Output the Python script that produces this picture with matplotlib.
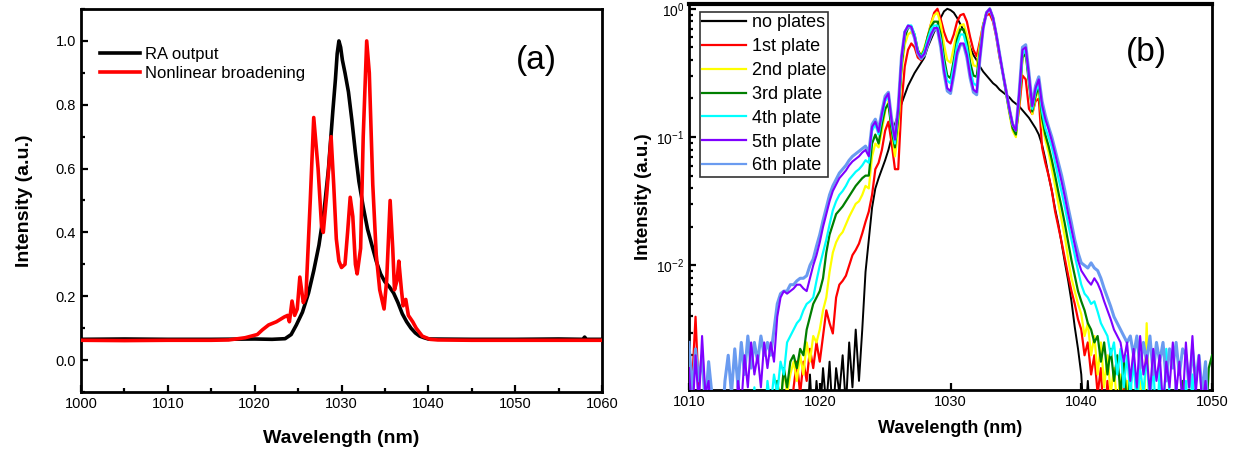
import numpy as np
import matplotlib
matplotlib.use('Agg')
import matplotlib.pyplot as plt
from matplotlib.ticker import MultipleLocator, FixedLocator, LogLocator, NullFormatter

plt.rcParams['font.family'] = ['Liberation Sans', 'DejaVu Sans']
plt.rcParams['mathtext.fontset'] = 'custom'
plt.rcParams['mathtext.rm'] = 'Liberation Sans'
plt.rcParams['mathtext.default'] = 'regular'

# ---------------- panel (a) data ----------------
wl_ra = [1000, 1005, 1010, 1015, 1020, 1022, 1023.5, 1024.2, 1024.8, 1025.5,
         1026.2, 1026.8, 1027.4, 1028, 1028.5, 1029, 1029.3, 1029.5, 1029.7, 1029.9,
         1030.1, 1030.4, 1030.8, 1031.2, 1031.6, 1032, 1032.5, 1033, 1033.5, 1034,
         1034.5, 1035, 1035.5, 1036, 1036.5, 1037, 1037.5, 1038, 1038.5, 1039,
         1039.5, 1040, 1045, 1050, 1055, 1057.8, 1058, 1058.2, 1060]
int_ra = [0.065, 0.066, 0.065, 0.065, 0.066, 0.065, 0.067, 0.08, 0.11, 0.15,
          0.21, 0.28, 0.36, 0.47, 0.6, 0.78, 0.88, 0.96, 1.0, 0.98,
          0.94, 0.9, 0.84, 0.75, 0.65, 0.56, 0.48, 0.41, 0.36, 0.31,
          0.27, 0.245, 0.23, 0.21, 0.18, 0.145, 0.12, 0.1, 0.085, 0.075,
          0.07, 0.066, 0.065, 0.065, 0.066, 0.065, 0.072, 0.065, 0.065]

wl_nl = [1000, 1005, 1010, 1015, 1017, 1018.9, 1020.3, 1020.9, 1021.6, 1022.5,
         1023.4, 1023.8, 1024.0, 1024.3, 1024.6, 1024.9, 1025.2, 1025.6, 1025.9, 1026.4,
         1026.8, 1027.3, 1027.7, 1027.9, 1028.3, 1028.8, 1029.1, 1029.4, 1029.7, 1030.0,
         1030.4, 1030.7, 1031.0, 1031.3, 1031.6, 1031.8, 1032.2, 1032.5, 1032.9, 1033.2,
         1033.6, 1034.0, 1034.4, 1034.9, 1035.2, 1035.6, 1035.9, 1036.1, 1036.4, 1036.6,
         1036.9, 1037.1, 1037.4, 1037.7, 1038.2, 1038.6, 1039.3, 1040.2, 1041.1, 1045,
         1050, 1055, 1060]
int_nl = [0.062, 0.061, 0.062, 0.062, 0.063, 0.07, 0.08, 0.095, 0.11, 0.12,
          0.135, 0.14, 0.12, 0.185, 0.14, 0.16, 0.26, 0.18, 0.2, 0.5,
          0.76, 0.6, 0.42, 0.4, 0.52, 0.70, 0.55, 0.38, 0.31, 0.29,
          0.3, 0.4, 0.51, 0.45, 0.3, 0.27, 0.35, 0.7, 1.0, 0.9,
          0.55, 0.33, 0.22, 0.16, 0.25, 0.5, 0.35, 0.22, 0.25, 0.31,
          0.22, 0.17, 0.19, 0.14, 0.12, 0.1, 0.075, 0.065, 0.063, 0.062,
          0.062, 0.062, 0.062]

# ---------------- panel (b) data (log10 of intensity, 0.25 nm grid) ----------------
wl_b = np.arange(1010, 1050.01, 0.25)

log_none = [
    -3.3, -3.3, -3.3, -3.3, -3.3, -3.3, -3.3, -3.3,
    -3.3, -3.3, -3.3, -3.3, -3.3, -3.3, -3.3, -3.3,
    -3.3, -3.3, -3.3, -3.3, -3.3, -3.3, -3.3, -3.3,
    -3.3, -3.3, -3.3, -3.3, -3.3, -3.3, -3.3, -3.3,
    -3.3, -3.3, -3.3, -3.3, -3.3, -2.85, -3.3, -2.9,
    -3.2, -2.8, -3.1, -2.75, -3.2, -2.8, -3.0, -2.7,
    -3.1, -2.6, -2.95, -2.5, -2.9, -2.5, -2.05, -1.8,
    -1.55, -1.4, -1.32, -1.25, -1.18, -1.1, -1.0, -0.9,
    -0.82, -0.74, -0.67, -0.6, -0.55, -0.5, -0.46, -0.42,
    -0.38, -0.3, -0.24, -0.18, -0.13, -0.07, -0.02, 0.0,
    -0.01, -0.03, -0.07, -0.12, -0.17, -0.22, -0.3, -0.36,
    -0.4, -0.45, -0.49, -0.52, -0.55, -0.58, -0.6, -0.63,
    -0.65, -0.67, -0.69, -0.72, -0.74, -0.76, -0.79, -0.82,
    -0.85, -0.89, -0.93, -0.98, -1.06, -1.17, -1.3, -1.42,
    -1.56, -1.68, -1.83, -1.98, -2.12, -2.28, -2.48, -2.65,
    -2.85, -3.3, -2.9, -3.3, -3.3, -3.3, -3.3, -3.3,
    -3.3, -3.3, -3.3, -3.3, -3.3, -3.3, -3.3, -3.3,
    -3.3, -3.3, -3.3, -3.3, -3.3, -3.3, -3.3, -3.3,
    -3.3, -3.3, -3.3, -3.3, -3.3, -3.3, -3.3, -3.3,
    -3.3, -3.3, -3.3, -3.3, -3.3, -3.3, -3.3, -3.3,
    -3.3]

log_p1 = [
    -3.3, -2.9, -2.4, -3.0, -3.3, -2.95, -3.3, -3.3,
    -3.3, -3.3, -3.3, -3.3, -3.3, -3.3, -3.3, -3.3,
    -3.3, -3.3, -3.3, -3.0, -3.3, -3.3, -3.3, -3.3,
    -3.3, -3.3, -3.3, -3.3, -3.0, -3.3, -2.95, -3.3,
    -2.95, -2.75, -3.0, -2.75, -2.9, -2.65, -2.8, -2.6,
    -2.75, -2.55, -2.35, -2.45, -2.53, -2.25, -2.15, -2.12,
    -2.08, -2.0, -1.92, -1.88, -1.83, -1.75, -1.66, -1.58,
    -1.45, -1.25, -1.2, -1.1, -0.95, -0.88, -1.05, -1.25,
    -1.25, -0.75, -0.45, -0.32, -0.27, -0.3, -0.38, -0.4,
    -0.33, -0.22, -0.12, -0.03, 0.0, -0.08, -0.18, -0.25,
    -0.27, -0.2, -0.1, -0.05, -0.04, -0.1, -0.22, -0.32,
    -0.37, -0.25, -0.12, -0.05, -0.04, -0.1, -0.22, -0.38,
    -0.5, -0.63, -0.78, -0.9, -0.95, -0.78, -0.52, -0.55,
    -0.78, -0.82, -0.72, -0.7, -1.08, -1.2, -1.3, -1.42,
    -1.58, -1.7, -1.82, -1.95, -2.08, -2.2, -2.3, -2.42,
    -2.5, -2.7, -2.6, -2.85, -2.7, -3.0, -2.8, -3.3,
    -2.9, -3.3, -3.1, -3.3, -3.3, -2.95, -3.3, -3.3,
    -3.3, -3.3, -3.0, -3.3, -3.3, -3.3, -3.3, -3.3,
    -3.3, -3.3, -3.3, -3.3, -3.3, -2.95, -3.3, -3.3,
    -3.3, -3.3, -3.3, -3.3, -3.3, -3.3, -3.3, -3.3,
    -3.3]

log_p2 = [
    -3.3, -3.3, -3.3, -3.3, -3.3, -3.3, -3.3, -3.3,
    -3.3, -3.3, -3.3, -3.3, -3.3, -3.3, -3.3, -3.3,
    -3.3, -3.3, -3.3, -3.3, -3.3, -3.3, -3.0, -3.3,
    -3.3, -3.0, -3.3, -2.9, -3.1, -2.8, -3.0, -2.85,
    -2.75, -2.9, -2.7, -2.85, -2.6, -2.75, -2.55, -2.6,
    -2.5, -2.35, -2.25, -2.05, -1.9, -1.82, -1.77, -1.74,
    -1.68, -1.62, -1.57, -1.52, -1.5, -1.45, -1.38, -1.4,
    -1.15, -1.05, -1.08, -0.95, -0.8, -0.72, -0.95, -1.15,
    -0.95, -0.5, -0.28, -0.2, -0.18, -0.22, -0.33, -0.36,
    -0.3, -0.22, -0.12, -0.05, -0.03, -0.12, -0.28, -0.4,
    -0.42, -0.3, -0.18, -0.13, -0.12, -0.2, -0.32, -0.44,
    -0.45, -0.28, -0.12, -0.03, 0.0, -0.07, -0.2, -0.36,
    -0.5, -0.66, -0.82, -0.95, -1.0, -0.75, -0.4, -0.33,
    -0.55, -0.82, -0.7, -0.62, -0.9, -1.02, -1.12, -1.25,
    -1.38, -1.52, -1.65, -1.78, -1.95, -2.1, -2.2, -2.3,
    -2.38, -2.55, -2.45, -2.7, -2.55, -2.85, -2.6, -2.95,
    -2.7, -3.0, -2.8, -3.1, -2.85, -3.3, -2.9, -3.3,
    -3.0, -3.3, -2.9, -3.3, -2.45, -3.3, -3.3, -3.3,
    -3.3, -3.0, -3.3, -3.3, -3.3, -3.3, -3.3, -3.3,
    -3.3, -3.3, -3.3, -3.3, -3.3, -3.3, -3.3, -3.3,
    -3.3]

log_p3 = [
    -2.75, -3.3, -3.3, -3.3, -3.3, -3.3, -3.3, -3.3,
    -3.3, -3.3, -3.3, -3.3, -3.3, -3.3, -3.3, -3.3,
    -3.3, -3.3, -3.3, -3.3, -3.3, -3.3, -3.3, -3.1,
    -3.3, -3.0, -3.3, -2.9, -3.1, -2.8, -2.95, -2.75,
    -2.7, -2.8, -2.65, -2.7, -2.5, -2.4, -2.3, -2.25,
    -2.2, -2.1, -1.9, -1.76, -1.68, -1.6, -1.57, -1.54,
    -1.5, -1.46, -1.42, -1.38, -1.35, -1.32, -1.3, -1.3,
    -1.05, -0.98, -1.05, -0.9, -0.78, -0.74, -0.95, -1.08,
    -0.85, -0.45, -0.22, -0.15, -0.14, -0.2, -0.32, -0.37,
    -0.32, -0.22, -0.14, -0.1, -0.1, -0.2, -0.38, -0.52,
    -0.54, -0.4, -0.24, -0.16, -0.16, -0.26, -0.42, -0.52,
    -0.53, -0.32, -0.13, -0.03, 0.0, -0.07, -0.2, -0.36,
    -0.5, -0.66, -0.8, -0.93, -0.98, -0.72, -0.38, -0.35,
    -0.58, -0.8, -0.68, -0.6, -0.85, -0.98, -1.07, -1.18,
    -1.3, -1.43, -1.55, -1.68, -1.82, -1.96, -2.08, -2.2,
    -2.28, -2.35, -2.45, -2.5, -2.6, -2.55, -2.75, -2.6,
    -2.85, -2.65, -2.9, -2.7, -3.0, -2.75, -3.1, -2.85,
    -3.3, -2.9, -3.3, -3.3, -3.0, -3.3, -3.3, -3.3,
    -3.3, -3.3, -3.3, -3.3, -3.3, -3.3, -3.3, -2.9,
    -3.3, -3.3, -3.3, -3.3, -3.3, -3.3, -3.3, -2.8,
    -2.7]

log_p4 = [
    -3.3, -3.0, -3.3, -3.3, -3.3, -3.3, -3.3, -3.3,
    -3.3, -3.3, -3.3, -3.3, -3.3, -3.3, -3.0, -3.3,
    -3.3, -3.0, -3.3, -3.3, -2.95, -3.3, -3.0, -3.3,
    -2.9, -3.1, -2.85, -3.0, -2.75, -2.85, -2.6, -2.55,
    -2.5, -2.45, -2.42, -2.35, -2.3, -2.28, -2.25, -2.12,
    -2.0, -1.9, -1.8, -1.68, -1.57, -1.5, -1.45, -1.42,
    -1.38, -1.33, -1.3, -1.27, -1.25, -1.22, -1.18, -1.2,
    -0.95, -0.9, -0.98, -0.85, -0.72, -0.68, -0.9, -1.05,
    -0.8, -0.4, -0.18, -0.13, -0.13, -0.2, -0.33, -0.38,
    -0.33, -0.24, -0.16, -0.13, -0.13, -0.24, -0.43, -0.56,
    -0.58, -0.44, -0.28, -0.2, -0.2, -0.3, -0.47, -0.58,
    -0.6, -0.36, -0.14, -0.03, 0.0, -0.07, -0.2, -0.35,
    -0.5, -0.64, -0.78, -0.9, -0.95, -0.68, -0.36, -0.32,
    -0.55, -0.78, -0.65, -0.58, -0.8, -0.93, -1.0, -1.08,
    -1.2, -1.32, -1.43, -1.55, -1.68, -1.8, -1.92, -2.04,
    -2.15, -2.22, -2.25, -2.3, -2.28, -2.36, -2.45, -2.5,
    -2.55, -2.7, -2.6, -2.85, -2.65, -2.95, -2.7, -3.0,
    -2.75, -3.1, -2.8, -3.0, -2.7, -3.1, -2.75, -3.3,
    -2.8, -3.3, -2.65, -3.0, -3.3, -2.9, -3.3, -3.3,
    -2.9, -3.3, -2.85, -3.3, -3.3, -2.9, -3.3, -3.3,
    -3.3]

log_p5 = [
    -2.8, -3.2, -2.7, -3.1, -2.55, -3.0, -2.9, -3.3,
    -3.0, -3.3, -3.3, -3.3, -3.3, -3.1, -3.3, -2.9,
    -3.1, -2.7, -2.95, -2.6, -2.85, -2.7, -2.95, -2.6,
    -2.8, -2.6, -2.75, -2.4, -2.25, -2.2, -2.22, -2.2,
    -2.18, -2.15, -2.15, -2.18, -2.2, -2.1, -2.0, -1.92,
    -1.82, -1.7, -1.6, -1.5, -1.42, -1.37, -1.32, -1.29,
    -1.26, -1.22, -1.19, -1.17, -1.15, -1.12, -1.1, -1.15,
    -0.92, -0.88, -0.96, -0.82, -0.7, -0.66, -0.88, -1.02,
    -0.78, -0.38, -0.18, -0.13, -0.14, -0.22, -0.34, -0.38,
    -0.35, -0.27, -0.2, -0.15, -0.15, -0.28, -0.48, -0.62,
    -0.64, -0.5, -0.34, -0.27, -0.27, -0.36, -0.52, -0.63,
    -0.65, -0.38, -0.15, -0.03, 0.0, -0.07, -0.2, -0.35,
    -0.5, -0.64, -0.78, -0.9, -0.95, -0.66, -0.32, -0.3,
    -0.52, -0.76, -0.62, -0.55, -0.75, -0.86, -0.94, -1.03,
    -1.13, -1.24, -1.35, -1.47, -1.6, -1.72, -1.84, -1.96,
    -2.04, -2.08, -2.12, -2.15, -2.1, -2.14, -2.2, -2.28,
    -2.35, -2.42, -2.5, -2.55, -2.6, -2.75, -2.6, -2.9,
    -2.65, -2.95, -2.55, -2.85, -2.7, -3.0, -2.65, -2.9,
    -2.7, -3.1, -2.75, -2.95, -2.6, -3.0, -2.75, -3.1,
    -2.6, -2.95, -2.55, -3.0, -2.7, -3.1, -2.9, -3.3,
    -3.3]

log_p6 = [
    -2.6, -3.0, -2.65, -2.9, -2.7, -3.1, -2.75, -3.0,
    -3.3, -3.0, -3.3, -2.9, -2.7, -3.0, -2.65, -2.95,
    -2.6, -2.85, -2.55, -2.8, -2.6, -2.75, -2.55, -2.7,
    -2.6, -2.7, -2.5, -2.3, -2.22, -2.2, -2.2, -2.15,
    -2.15, -2.12, -2.1, -2.1, -2.08, -2.0, -1.95, -1.85,
    -1.76, -1.65, -1.55, -1.45, -1.38, -1.33, -1.28, -1.25,
    -1.22, -1.18, -1.15, -1.13, -1.11, -1.09, -1.07, -1.12,
    -0.9, -0.86, -0.94, -0.8, -0.68, -0.65, -0.86, -1.0,
    -0.76, -0.37, -0.18, -0.14, -0.15, -0.23, -0.35, -0.39,
    -0.36, -0.28, -0.21, -0.16, -0.16, -0.3, -0.5, -0.64,
    -0.66, -0.52, -0.36, -0.28, -0.28, -0.38, -0.54, -0.65,
    -0.67, -0.39, -0.15, -0.03, 0.0, -0.07, -0.2, -0.35,
    -0.5, -0.64, -0.78, -0.9, -0.94, -0.65, -0.3, -0.28,
    -0.5, -0.75, -0.6, -0.53, -0.72, -0.83, -0.92, -1.0,
    -1.1, -1.2, -1.3, -1.42, -1.55, -1.67, -1.8, -1.9,
    -1.98, -2.0, -2.02, -1.98, -2.02, -2.04, -2.1, -2.18,
    -2.25, -2.32, -2.4, -2.45, -2.5, -2.55, -2.6, -2.55,
    -2.7, -2.55, -2.8, -2.6, -2.75, -2.55, -2.85, -2.6,
    -2.75, -2.6, -2.9, -2.65, -2.8, -2.6, -2.85, -2.65,
    -2.7, -2.95, -2.65, -2.9, -2.7, -3.0, -2.75, -3.3,
    -3.3]

labels_b = ['no plates', '1st plate', '2nd plate', '3rd plate',
            '4th plate', '5th plate', '6th plate']
colors_b = ['black', '#FF0000', '#FFFF00', '#007F00', '#00FFFF', '#7F00FF', '#6A9BF0']
series_b = [log_none, log_p1, log_p2, log_p3, log_p4, log_p5, log_p6]

# ---------------- figure ----------------
fig = plt.figure(figsize=(12.43, 4.55), dpi=100)

def style_axes(ax):
    for s in ax.spines.values():
        s.set_linewidth(2.0)
    ax.tick_params(which='both', direction='in', top=False, right=False,
                   width=1.6, labelsize=10.5)
    ax.tick_params(which='major', length=5)
    ax.tick_params(which='minor', length=3)

# panel (a)
ax1 = fig.add_axes([0.0652, 0.1385, 0.4191, 0.8417])
ax1.plot(wl_ra, int_ra, color='black', lw=2.6, label='RA output', zorder=2)
ax1.plot(wl_nl, int_nl, color='#FF0000', lw=2.6, label='Nonlinear broadening', zorder=3)
ax1.set_xlim(1000, 1060)
ax1.set_ylim(-0.1, 1.1)
ax1.xaxis.set_major_locator(MultipleLocator(10))
ax1.xaxis.set_minor_locator(MultipleLocator(5))
ax1.yaxis.set_major_locator(FixedLocator([0.0, 0.2, 0.4, 0.6, 0.8, 1.0]))
ax1.yaxis.set_minor_locator(MultipleLocator(0.1))
ax1.yaxis.set_major_formatter(matplotlib.ticker.FormatStrFormatter('%.1f'))
style_axes(ax1)
ax1.set_xlabel('Wavelength (nm)', fontsize=14, fontweight='bold', labelpad=14)
ax1.set_ylabel('Intensity (a.u.)', fontsize=14, fontweight='bold', labelpad=16)
ax1.legend(loc='upper left', bbox_to_anchor=(0.037, 0.90), frameon=False,
           fontsize=12, handlelength=2.4, handletextpad=0.3,
           labelspacing=0.2, borderpad=0, borderaxespad=0)
ax1.text(0.875, 0.865, '(a)', transform=ax1.transAxes, fontsize=24,
         ha='center', va='center')

# panel (b)
ax2 = fig.add_axes([0.5543, 0.1429, 0.4208, 0.8483])
zorders = [2, 3, 4, 5, 6, 8, 7]
widths = [1.4, 1.6, 1.6, 1.6, 1.6, 1.5, 2.2]
for vals, lab, col, z, w in zip(series_b, labels_b, colors_b, zorders, widths):
    ax2.plot(wl_b, 10 ** np.array(vals), color=col, lw=w, label=lab, zorder=z)
ax2.set_yscale('log')
ax2.set_xlim(1010, 1050)
ax2.set_ylim(1.07e-3, 1.09)
ax2.xaxis.set_major_locator(MultipleLocator(10))
ax2.yaxis.set_major_locator(FixedLocator([1e-2, 1e-1, 1e0]))
ax2.yaxis.set_major_formatter(matplotlib.ticker.FixedFormatter(
    ['$10^{-2}$', '$10^{-1}$', '$10^{0}$']))
ax2.yaxis.set_minor_locator(LogLocator(base=10, subs=np.arange(2, 10)))
ax2.yaxis.set_minor_formatter(NullFormatter())
style_axes(ax2)
ax2.spines['top'].set_linewidth(3.0)
ax2.tick_params(axis='y', which='major', labelsize=10)
ax2.set_xlabel('Wavelength (nm)', fontsize=13, fontweight='bold', labelpad=8)
ax2.set_ylabel('Intensity (a.u.)', fontsize=13.5, fontweight='bold', labelpad=3)
leg = ax2.legend(loc='upper left', bbox_to_anchor=(0.021, 0.979), fontsize=13,
                 handlelength=2.45, handletextpad=0.3, labelspacing=0.38,
                 borderpad=0.12, borderaxespad=0, fancybox=False)
leg.get_frame().set_edgecolor('black')
leg.get_frame().set_linewidth(1.2)
for line in leg.get_lines():
    line.set_linewidth(1.6)
ax2.text(0.875, 0.875, '(b)', transform=ax2.transAxes, fontsize=24,
         ha='center', va='center')

fig.savefig('out.png', dpi=100)
